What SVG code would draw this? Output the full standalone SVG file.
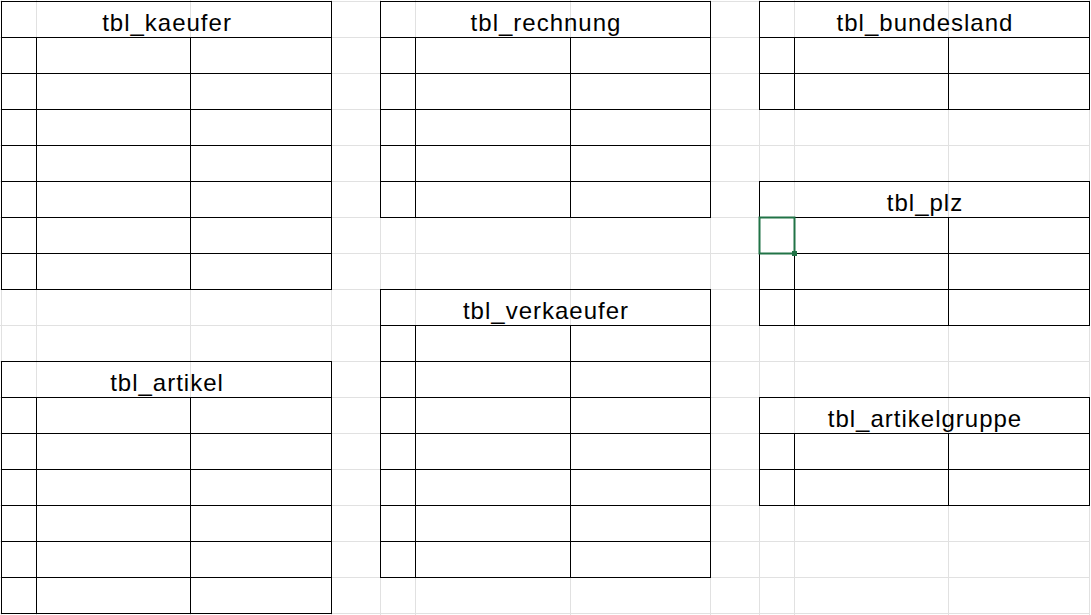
<svg xmlns="http://www.w3.org/2000/svg" width="1091" height="615" viewBox="0 0 1091 615">
<style>
.grid line{stroke:#e1e1e1;stroke-width:1}
.tbl rect,.tbl line{stroke:#000;stroke-width:1;fill:none}
.tbl text{font-family:"Liberation Sans",Arial,sans-serif;font-size:24px;letter-spacing:1px;fill:#000;text-anchor:middle}
</style>
<rect width="1091" height="615" fill="#fff"/>
<g class="grid">
<line x1="1.5" y1="0" x2="1.5" y2="615"/><line x1="36.5" y1="0" x2="36.5" y2="615"/><line x1="190.5" y1="0" x2="190.5" y2="615"/><line x1="331.5" y1="0" x2="331.5" y2="615"/><line x1="380.5" y1="0" x2="380.5" y2="615"/><line x1="415.5" y1="0" x2="415.5" y2="615"/><line x1="570.5" y1="0" x2="570.5" y2="615"/><line x1="710.5" y1="0" x2="710.5" y2="615"/><line x1="759.5" y1="0" x2="759.5" y2="615"/><line x1="794.5" y1="0" x2="794.5" y2="615"/><line x1="948.5" y1="0" x2="948.5" y2="615"/><line x1="1089.5" y1="0" x2="1089.5" y2="615"/>
<line x1="0" y1="1.5" x2="1090" y2="1.5"/><line x1="0" y1="37.5" x2="1090" y2="37.5"/><line x1="0" y1="73.5" x2="1090" y2="73.5"/><line x1="0" y1="109.5" x2="1090" y2="109.5"/><line x1="0" y1="145.5" x2="1090" y2="145.5"/><line x1="0" y1="181.5" x2="1090" y2="181.5"/><line x1="0" y1="217.5" x2="1090" y2="217.5"/><line x1="0" y1="253.5" x2="1090" y2="253.5"/><line x1="0" y1="289.5" x2="1090" y2="289.5"/><line x1="0" y1="325.5" x2="1090" y2="325.5"/><line x1="0" y1="361.5" x2="1090" y2="361.5"/><line x1="0" y1="397.5" x2="1090" y2="397.5"/><line x1="0" y1="433.5" x2="1090" y2="433.5"/><line x1="0" y1="469.5" x2="1090" y2="469.5"/><line x1="0" y1="505.5" x2="1090" y2="505.5"/><line x1="0" y1="541.5" x2="1090" y2="541.5"/><line x1="0" y1="577.5" x2="1090" y2="577.5"/><line x1="0" y1="613.5" x2="1090" y2="613.5"/>
</g>
<g id="tbl_kaeufer" class="tbl">
<rect x="1.5" y="1.5" width="330" height="288"/>
<line x1="1.5" y1="37.5" x2="331.5" y2="37.5"/>
<line x1="36.5" y1="37.5" x2="36.5" y2="289.5"/><line x1="190.5" y1="37.5" x2="190.5" y2="289.5"/>
<line x1="1.5" y1="73.5" x2="331.5" y2="73.5"/><line x1="1.5" y1="109.5" x2="331.5" y2="109.5"/><line x1="1.5" y1="145.5" x2="331.5" y2="145.5"/><line x1="1.5" y1="181.5" x2="331.5" y2="181.5"/><line x1="1.5" y1="217.5" x2="331.5" y2="217.5"/><line x1="1.5" y1="253.5" x2="331.5" y2="253.5"/>
<text x="167" y="31">tbl_kaeufer</text>
</g>
<g id="tbl_rechnung" class="tbl">
<rect x="380.5" y="1.5" width="330" height="216"/>
<line x1="380.5" y1="37.5" x2="710.5" y2="37.5"/>
<line x1="415.5" y1="37.5" x2="415.5" y2="217.5"/><line x1="570.5" y1="37.5" x2="570.5" y2="217.5"/>
<line x1="380.5" y1="73.5" x2="710.5" y2="73.5"/><line x1="380.5" y1="109.5" x2="710.5" y2="109.5"/><line x1="380.5" y1="145.5" x2="710.5" y2="145.5"/><line x1="380.5" y1="181.5" x2="710.5" y2="181.5"/>
<text x="546" y="31">tbl_rechnung</text>
</g>
<g id="tbl_bundesland" class="tbl">
<rect x="759.5" y="1.5" width="330" height="108"/>
<line x1="759.5" y1="37.5" x2="1089.5" y2="37.5"/>
<line x1="794.5" y1="37.5" x2="794.5" y2="109.5"/><line x1="948.5" y1="37.5" x2="948.5" y2="109.5"/>
<line x1="759.5" y1="73.5" x2="1089.5" y2="73.5"/>
<text x="925" y="31">tbl_bundesland</text>
</g>
<g id="tbl_plz" class="tbl">
<rect x="759.5" y="181.5" width="330" height="144"/>
<line x1="759.5" y1="217.5" x2="1089.5" y2="217.5"/>
<line x1="794.5" y1="217.5" x2="794.5" y2="325.5"/><line x1="948.5" y1="217.5" x2="948.5" y2="325.5"/>
<line x1="759.5" y1="253.5" x2="1089.5" y2="253.5"/><line x1="759.5" y1="289.5" x2="1089.5" y2="289.5"/>
<text x="925" y="211">tbl_plz</text>
</g>
<g id="tbl_artikel" class="tbl">
<rect x="1.5" y="361.5" width="330" height="252"/>
<line x1="1.5" y1="397.5" x2="331.5" y2="397.5"/>
<line x1="36.5" y1="397.5" x2="36.5" y2="613.5"/><line x1="190.5" y1="397.5" x2="190.5" y2="613.5"/>
<line x1="1.5" y1="433.5" x2="331.5" y2="433.5"/><line x1="1.5" y1="469.5" x2="331.5" y2="469.5"/><line x1="1.5" y1="505.5" x2="331.5" y2="505.5"/><line x1="1.5" y1="541.5" x2="331.5" y2="541.5"/><line x1="1.5" y1="577.5" x2="331.5" y2="577.5"/>
<text x="167" y="391">tbl_artikel</text>
</g>
<g id="tbl_verkaeufer" class="tbl">
<rect x="380.5" y="289.5" width="330" height="288"/>
<line x1="380.5" y1="325.5" x2="710.5" y2="325.5"/>
<line x1="415.5" y1="325.5" x2="415.5" y2="577.5"/><line x1="570.5" y1="325.5" x2="570.5" y2="577.5"/>
<line x1="380.5" y1="361.5" x2="710.5" y2="361.5"/><line x1="380.5" y1="397.5" x2="710.5" y2="397.5"/><line x1="380.5" y1="433.5" x2="710.5" y2="433.5"/><line x1="380.5" y1="469.5" x2="710.5" y2="469.5"/><line x1="380.5" y1="505.5" x2="710.5" y2="505.5"/><line x1="380.5" y1="541.5" x2="710.5" y2="541.5"/>
<text x="546" y="319">tbl_verkaeufer</text>
</g>
<g id="tbl_artikelgruppe" class="tbl">
<rect x="759.5" y="397.5" width="330" height="108"/>
<line x1="759.5" y1="433.5" x2="1089.5" y2="433.5"/>
<line x1="794.5" y1="433.5" x2="794.5" y2="505.5"/><line x1="948.5" y1="433.5" x2="948.5" y2="505.5"/>
<line x1="759.5" y1="469.5" x2="1089.5" y2="469.5"/>
<text x="925" y="427">tbl_artikelgruppe</text>
</g>
<g id="selection">
<rect x="759.5" y="217.5" width="35" height="36" fill="none" stroke="#217346" stroke-width="2"/>
<rect x="792" y="251" width="5" height="5" fill="#217346"/>
</g>
</svg>
